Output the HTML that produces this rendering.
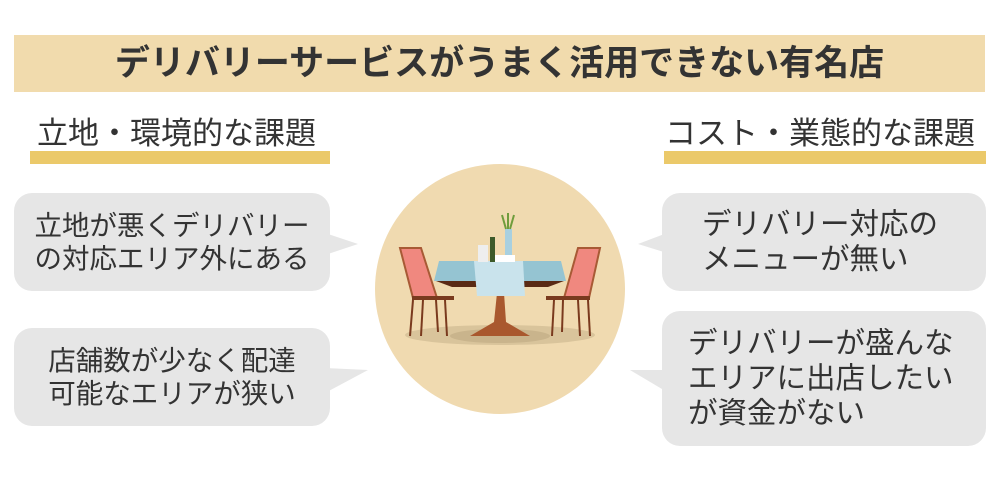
<!DOCTYPE html>
<html><head><meta charset="utf-8"><style>
body{margin:0;width:1000px;height:481px;background:#fff;position:relative;overflow:hidden;font-family:"Liberation Sans","Noto Sans CJK JP",sans-serif;color:#333}
.a{position:absolute}
.title{left:14px;top:35px;width:971px;height:57px;background:#f1dbad;font-weight:bold;font-size:35px;line-height:57px;text-align:center;color:#333}
.h{font-size:31px;line-height:34px;top:117px;white-space:nowrap}
.bar{background:#ebc96a;height:13px;top:151px}
.b{background:#e6e6e6;border-radius:18px;font-size:27.5px;line-height:33px;display:flex;flex-direction:column;justify-content:center;align-items:center}
.b div{white-space:nowrap}
.r{font-size:29.5px;line-height:35px}
</style></head><body>
<div class="a title">デリバリーサービスがうまく活用できない有名店</div>
<div class="a h" style="left:37px">立地・環境的な課題</div>
<div class="a bar" style="left:30px;width:300px"></div>
<div class="a h" style="left:665px">コスト・業態的な課題</div>
<div class="a bar" style="left:664px;width:322px"></div>
<svg class="a" style="left:0;top:0" width="1000" height="481">
<polygon points="325,233 358,244 325,255" fill="#e6e6e6"/>
<polygon points="325,368 368,370 325,393" fill="#e6e6e6"/>
<polygon points="667,233 638,244 667,253" fill="#e6e6e6"/>
<polygon points="667,370 630,370 667,392" fill="#e6e6e6"/>
<circle cx="500" cy="289" r="125" fill="#f0dab0"/>
<ellipse cx="500" cy="335" rx="95" ry="10" fill="#d9c49b"/>
<ellipse cx="500" cy="336" rx="50" ry="7" fill="#c9b48c"/>
<polygon points="400,248 421,248 437,298 413,298" fill="#f0887f" stroke="#a85a35" stroke-width="2"/>
<rect x="412" y="296" width="42" height="4" fill="#7a3a1e"/>
<g stroke="#7a3a1e" stroke-width="2"><line x1="413" y1="300" x2="410" y2="336"/><line x1="423" y1="300" x2="421" y2="336"/><line x1="445" y1="300" x2="447" y2="336"/><line x1="436" y1="300" x2="438" y2="332"/></g>
<polygon points="578,248 600,248 589,298 564,298" fill="#f0887f" stroke="#a85a35" stroke-width="2"/>
<rect x="546" y="296" width="44" height="4" fill="#7a3a1e"/>
<g stroke="#7a3a1e" stroke-width="2"><line x1="588" y1="300" x2="590" y2="336"/><line x1="578" y1="300" x2="580" y2="336"/><line x1="554" y1="300" x2="552" y2="336"/><line x1="563" y1="300" x2="562" y2="332"/></g>
<polygon points="497,293 504,293 506,322 530,336 470,336 494,322" fill="#a9582e"/>
<polygon points="439,261 561,261 566,281 434,281" fill="#95c4d2"/>
<polygon points="436,281 564,281 548,287 452,287" fill="#5a2a14"/>
<polygon points="474,261 523,261 525,296 477,296" fill="#c9e3ec"/>
<rect x="505" y="229" width="7" height="26" fill="#a8d0e0"/>
<path d="M506 229 l-4 -14 M508 229 l0 -16 M510 229 l4 -14" stroke="#6f9c3c" stroke-width="2"/>
<rect x="490" y="237" width="5" height="25" fill="#3d5a2a"/>
<rect x="478" y="245" width="10" height="17" fill="#eee"/>
<rect x="495" y="255" width="20" height="7" fill="#fff"/>
</svg>
<div class="a b" style="left:14px;top:193px;width:316px;height:98px"><div>立地が悪くデリバリー</div><div>の対応エリア外にある</div></div>
<div class="a b" style="left:14px;top:328px;width:316px;height:98px"><div>店舗数が少なく配達</div><div>可能なエリアが狭い</div></div>
<div class="a b r" style="left:662px;top:193px;width:324px;height:98px;align-items:flex-start;padding-left:40px;box-sizing:border-box"><div>デリバリー対応の</div><div>メニューが無い</div></div>
<div class="a b r" style="left:662px;top:311px;width:324px;height:135px;align-items:flex-start;padding-left:26px;box-sizing:border-box"><div>デリバリーが盛んな</div><div>エリアに出店したい</div><div>が資金がない</div></div>
</body></html>
